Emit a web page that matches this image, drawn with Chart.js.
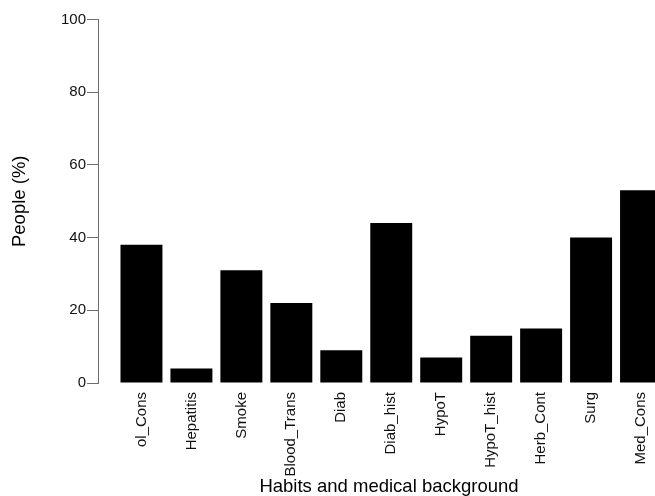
<!DOCTYPE html>
<html>
<head>
<meta charset="utf-8">
<script src="https://cdn.jsdelivr.net/npm/chart.js@4/dist/chart.umd.min.js"></script>
<style>
  html, body { margin: 0; padding: 0; background: #fff; overflow: hidden; }
  #wrap { position: absolute; left: 0; top: 0; width: 680px; height: 496px; }
</style>
</head>
<body>
<div id="wrap"><canvas id="c" width="680" height="496"></canvas></div>
<script>
const categories = ["ol_Cons", "Hepatitis", "Smoke", "Blood_Trans", "Diab", "Diab_hist", "HypoT", "HypoT_hist", "Herb_Cont", "Surg", "Med_Cons"];
const peoplePct = [38, 4, 31, 22, 9, 44, 7, 13, 15, 40, 53];
const yTicks = [0, 20, 40, 60, 80, 100];
const xTitle = "Habits and medical background";
const yTitle = "People (%)";

const points = categories.map((c, i) => ({ x: i, y: peoplePct[i] }));

new Chart(document.getElementById('c'), {
  type: 'bar',
  data: {
    datasets: [{
      data: points,
      backgroundColor: '#000000',
      borderWidth: 0,
      categoryPercentage: 1,
      barPercentage: 0.84
    }]
  },
  options: {
    responsive: false,
    animation: false,
    devicePixelRatio: 1,
    layout: { padding: { top: 19.5, left: 0, right: 0, bottom: 0 } },
    plugins: { legend: { display: false }, tooltip: { enabled: false } },
    scales: {
      x: {
        type: 'linear',
        offset: false,
        min: -0.87,
        max: 10.78,
        grid: { display: false, drawTicks: false, offset: false },
        border: { display: false },
        afterBuildTicks: s => { s.ticks = categories.map((_, i) => ({ value: i })); },
        afterFit: s => { s.height = 113; s.paddingLeft = 0; s.paddingRight = 0; },
        ticks: {
          autoSkip: false,
          minRotation: 90,
          maxRotation: 90,
          padding: 9,
          color: '#111',
          font: { family: 'Liberation Sans, Arial, sans-serif', size: 15 },
          callback: v => categories[v] !== undefined ? categories[v] : ''
        },
        title: {
          display: true,
          text: xTitle,
          color: '#000',
          font: { family: 'Liberation Sans, Arial, sans-serif', size: 18.5, lineHeight: 1 },
          padding: { top: 0, bottom: 0 }
        }
      },
      y: {
        min: 0,
        max: 100,
        afterBuildTicks: s => { s.ticks = yTicks.map(v => ({ value: v })); },
        afterFit: s => { s.width = 98; },
        grid: { drawOnChartArea: false, drawTicks: true, tickLength: 11, color: '#6e6e6e', lineWidth: 1 },
        border: { display: true, color: '#6e6e6e', width: 1 },
        ticks: {
          padding: 1,
          color: '#111',
          font: { family: 'Liberation Sans, Arial, sans-serif', size: 15 }
        },
        title: {
          display: true,
          text: yTitle,
          color: '#000',
          font: { family: 'Liberation Sans, Arial, sans-serif', size: 18.5, lineHeight: 1.2 },
          padding: { top: 9, bottom: 0 }
        }
      }
    }
  }
});
</script>
</body>
</html>
